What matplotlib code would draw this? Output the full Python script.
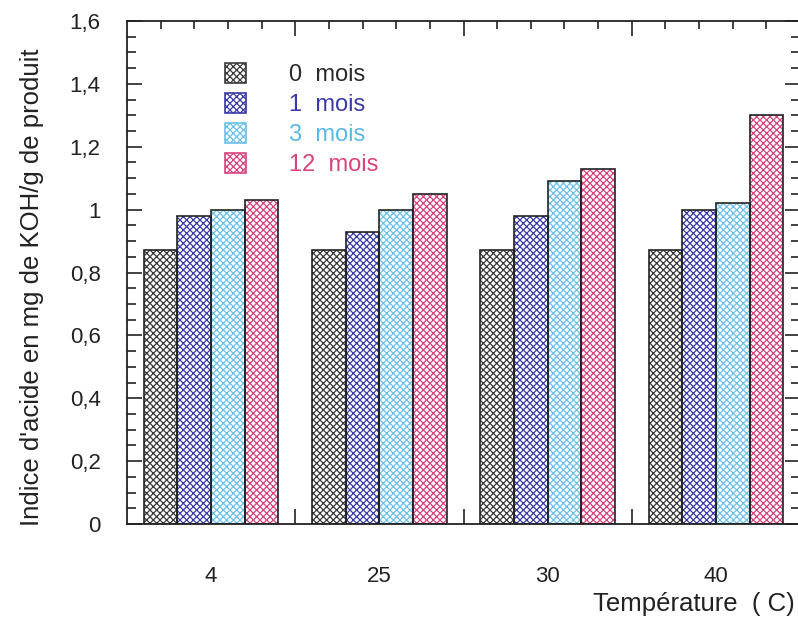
import matplotlib
matplotlib.use("Agg")
import matplotlib.pyplot as plt
from matplotlib.patches import Patch
from matplotlib.ticker import MultipleLocator, FixedLocator, FuncFormatter
import numpy as np

temperatures = ["4", "25", "30", "40"]
series_labels = ["0  mois", "1  mois", "3  mois", "12  mois"]
mois_0 = [0.87, 0.87, 0.87, 0.87]
mois_1 = [0.98, 0.93, 0.98, 1.00]
mois_3 = [1.00, 1.00, 1.09, 1.02]
mois_12 = [1.03, 1.05, 1.13, 1.30]
series = [mois_0, mois_1, mois_3, mois_12]
hatch_colors = ["#3a3a3a", "#3a3aa8", "#6cc0ea", "#d8437f"]
text_colors = ["#2a2a2a", "#3a3aa8", "#5ab8e6", "#d8437f"]

plt.rcParams['font.family'] = ['Liberation Sans', 'DejaVu Sans']
plt.rcParams['hatch.linewidth'] = 0.9

fig = plt.figure(figsize=(7.98, 6.18), dpi=100)
ax = fig.add_axes([127 / 798, 94 / 618, 673 / 798, 503 / 618])

n_groups = len(temperatures)
n_series = len(series)
step = n_series + 1
group_starts = np.arange(n_groups) * step

for i, (vals, hc) in enumerate(zip(series, hatch_colors)):
    x = group_starts + i
    ax.bar(x, vals, width=1.0, color="white", edgecolor=hc, hatch="xxxxx",
           linewidth=0, zorder=2)
    ax.bar(x, vals, width=1.0, fill=False, edgecolor="#222222",
           linewidth=1.2, zorder=3)

ax.set_xlim(-1, n_groups * step - 1)
ax.set_ylim(0, 1.6)

# y ticks
ax.yaxis.set_major_locator(MultipleLocator(0.2))
ax.yaxis.set_minor_locator(MultipleLocator(0.05))
ax.yaxis.set_major_formatter(FuncFormatter(
    lambda v, p: "0" if abs(v) < 1e-9 else ("1" if abs(v - 1) < 1e-9 else f"{v:.1f}".replace(".", ","))))

# x ticks: major at gaps, minor at each bar position
gaps = [g + n_series for g in group_starts[:-1]]
bar_pos = [g + i for g in group_starts for i in range(n_series)]
ax.xaxis.set_major_locator(FixedLocator(gaps))
ax.xaxis.set_minor_locator(FixedLocator(bar_pos))
ax.set_xticklabels([""] * len(gaps))

ax.tick_params(axis="both", which="both", direction="in", top=True, right=True,
               colors="#222222", width=1.2)
ax.tick_params(axis="y", which="major", length=11, labelsize=16, pad=19)
ax.tick_params(axis="y", which="minor", length=6.5)
ax.tick_params(axis="x", which="major", length=11)
ax.tick_params(axis="x", which="minor", length=5.5)

for sp in ax.spines.values():
    sp.set_linewidth(1.3)
    sp.set_color("#222222")

# group labels
for g, lab in zip(group_starts, temperatures):
    ax.text(g + (n_series - 1) / 2, -0.105, lab, transform=ax.get_xaxis_transform(),
            ha="center", va="center", fontsize=16, color="#222222")

ax.set_ylabel("Indice d'acide en mg de KOH/g de produit", fontsize=18.5,
              color="#222222")
ax.yaxis.set_label_coords(-0.123, 0.47)
fig.text(0.996, 0.004, "Température  ( C)", ha="right", va="bottom",
         fontsize=18.5, color="#222222")

# legend
handles = [Patch(facecolor="white", edgecolor=hc, hatch="xxxxx") for hc in hatch_colors]
leg = ax.legend(handles, series_labels, loc="upper left",
                bbox_to_anchor=(0.128, 0.94), frameon=False, fontsize=17,
                handlelength=0.9, handleheight=0.9, handletextpad=1.8,
                labelspacing=0.3, borderpad=0)
for txt, c in zip(leg.get_texts(), text_colors):
    txt.set_color(c)
for h in leg.legend_handles:
    h.set_linewidth(1.2)

fig.savefig("out.png", dpi=100)
